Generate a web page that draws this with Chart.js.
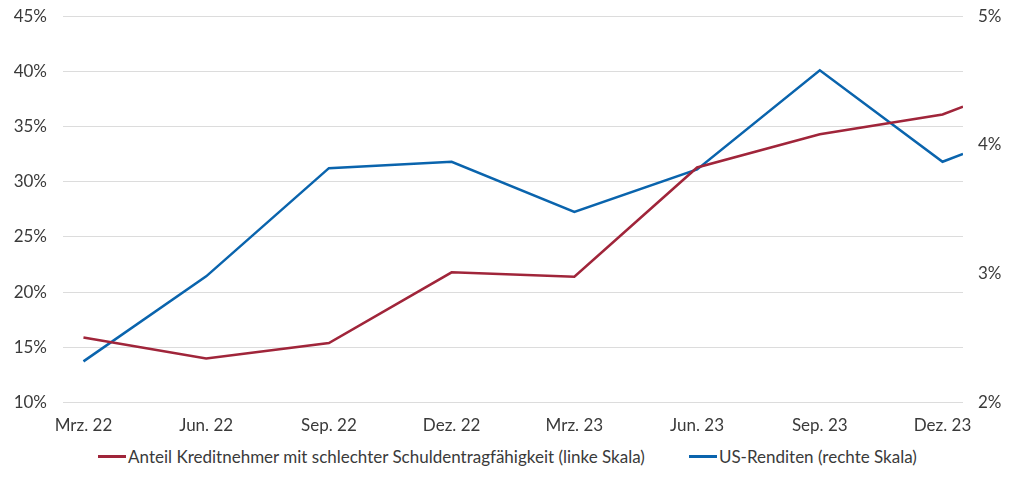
<!DOCTYPE html>
<html lang="de">
<head>
    <meta charset="UTF-8">
    <title>Schuldentragfähigkeit und US-Renditen</title>
    <script src="https://cdn.jsdelivr.net/npm/chart.js"></script>
    <style>
        html, body { margin: 0; padding: 0; background: #fff; overflow: hidden; }
        #wrap { width: 1015px; height: 451px; margin-top: -10px; }
        #legende {
            height: 48px; width: 1015px; margin-top: -9px;
            display: flex; justify-content: center; align-items: center;
            font-family: Lato, sans-serif; font-size: 17px; color: #3a3a3a;
            box-sizing: border-box;
        }
        .eintrag { display: flex; align-items: center; margin: 0 22px; white-space: nowrap; }
        .linie { width: 28px; height: 3px; margin-right: 2px; }
    </style>
</head>
<body>
    <div id="wrap"><canvas id="grafik"></canvas></div>
    <div id="legende"></div>

    <script>
        // Monate seit März 2022 (letzter Wert Mitte Januar 2024)
        const monate = [0, 3, 6, 9, 12, 15, 18, 21, 21.5];
        const tickMonate = [0, 3, 6, 9, 12, 15, 18, 21];
        const tickLabels = ['Mrz. 22', 'Jun. 22', 'Sep. 22', 'Dez. 22', 'Mrz. 23', 'Jun. 23', 'Sep. 23', 'Dez. 23'];

        // Anteil Kreditnehmer mit schlechter Schuldentragfähigkeit, in %
        const anteilKreditnehmer = [15.9, 14.0, 15.4, 21.8, 21.4, 31.3, 34.3, 36.1, 36.8];
        // US-Renditen, in %
        const usRenditen = [2.32, 2.98, 3.82, 3.87, 3.48, 3.81, 4.58, 3.87, 3.93];

        const schrift = { family: 'Lato', size: 17 };
        const textFarbe = '#3a3a3a';

        const punkte = (werte) => werte.map((v, i) => ({ x: monate[i], y: v }));

        const grafik = new Chart(document.getElementById('grafik'), {
            type: 'line',
            data: {
                datasets: [{
                    label: 'Anteil Kreditnehmer mit schlechter Schuldentragfähigkeit (linke Skala)',
                    data: punkte(anteilKreditnehmer),
                    borderColor: '#a0253a',
                    borderWidth: 2.5,
                    pointRadius: 0,
                    yAxisID: 'links'
                }, {
                    label: 'US-Renditen (rechte Skala)',
                    data: punkte(usRenditen),
                    borderColor: '#0a64ad',
                    borderWidth: 2.5,
                    pointRadius: 0,
                    yAxisID: 'rechts'
                }]
            },
            options: {
                responsive: true,
                maintainAspectRatio: false,
                animation: false,
                layout: { padding: 0 },
                plugins: {
                    tooltip: { enabled: false },
                    legend: { display: false }
                },
                scales: {
                    x: {
                        type: 'linear',
                        min: -0.5,
                        max: 21.5,
                        afterBuildTicks: (achse) => {
                            achse.ticks = tickMonate.map(v => ({ value: v }));
                        },
                        grid: { display: false },
                        border: { display: false },
                        ticks: {
                            font: schrift,
                            color: textFarbe,
                            maxRotation: 0,
                            autoSkip: false,
                            padding: 5,
                            callback: (wert) => tickLabels[tickMonate.indexOf(wert)]
                        }
                    },
                    links: {
                        position: 'left',
                        min: 10,
                        max: 45,
                        afterFit: (achse) => { achse.width = 63; },
                        grid: { color: '#dcdcdc', lineWidth: 1, drawTicks: false },
                        border: { display: false },
                        ticks: {
                            stepSize: 5,
                            font: schrift,
                            color: textFarbe,
                            padding: 16,
                            callback: (wert) => wert + '%'
                        }
                    },
                    rechts: {
                        position: 'right',
                        min: 2,
                        max: 5,
                        afterFit: (achse) => { achse.width = 52; },
                        grid: { display: false, drawTicks: false },
                        border: { display: false },
                        ticks: {
                            stepSize: 1,
                            font: schrift,
                            color: textFarbe,
                            padding: 15,
                            callback: (wert) => wert + '%'
                        }
                    }
                }
            }
        });

        // Legende als Text unter dem Diagramm
        const legende = document.getElementById('legende');
        grafik.data.datasets.forEach((ds) => {
            const eintrag = document.createElement('div');
            eintrag.className = 'eintrag';
            const linie = document.createElement('span');
            linie.className = 'linie';
            linie.style.background = ds.borderColor;
            const text = document.createElement('span');
            text.textContent = ds.label;
            eintrag.appendChild(linie);
            eintrag.appendChild(text);
            legende.appendChild(eintrag);
        });
    </script>
</body>
</html>
